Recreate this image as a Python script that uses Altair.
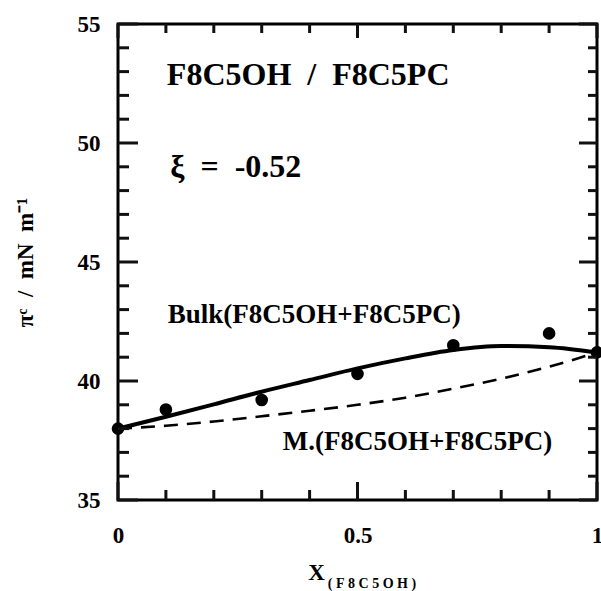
import altair as alt
import pandas as pd

NB = "\u00a0"

# ---- data ----
pt_x = [0.0, 0.1, 0.3, 0.5, 0.7, 0.9, 1.0]
pt_y = [38.0, 38.8, 39.2, 40.3, 41.5, 42.0, 41.2]

curve_x = [0.0, 0.1, 0.2, 0.3, 0.4, 0.5, 0.6, 0.7, 0.8, 0.9, 1.0]
bulk_y = [38.0, 38.5, 39.02, 39.55, 40.04, 40.53, 40.95, 41.30, 41.47, 41.42, 41.2]
ideal_y = [38.0, 38.12, 38.3, 38.52, 38.75, 39.0, 39.3, 39.68, 40.1, 40.6, 41.2]

y_major = [35, 40, 45, 50, 55]
y_minor = [36, 37, 38, 39, 41, 42, 43, 44, 46, 47, 48, 49, 51, 52, 53, 54]
x_major = [0.0, 0.5, 1.0]
x_minor = [0.1, 0.2, 0.3, 0.4, 0.6, 0.7, 0.8, 0.9]

title_text = "F8C5OH" + NB * 2 + "/" + NB * 2 + "F8C5PC"
xi_text = "ξ" + NB * 2 + "=" + NB * 2 + "-0.52"
bulk_text = "Bulk(F8C5OH+F8C5PC)"
mix_text = "M.(F8C5OH+F8C5PC)"

y_title = "πᶜ" + NB * 2 + "/" + NB * 2 + "mN" + NB * 2 + "m⁻¹"
x_title_main = "X"
x_title_sub = NB.join(list("(F8C5OH)"))

W, H = 479, 476
X0, X1, Y0, Y1 = 0.0, 1.0, 35.0, 55.0
FONT = "Liberation Serif"
INK = "#111111"

pts = pd.DataFrame({"x": pt_x, "y": pt_y})
curves = pd.DataFrame({"x": curve_x, "bulk": bulk_y, "ideal": ideal_y})

xs = alt.Scale(domain=[X0, X1], nice=False, zero=False)
ys = alt.Scale(domain=[Y0, Y1], nice=False, zero=False)

xaxis = alt.Axis(values=x_major, format="~g", labelFont=FONT, labelFontWeight="bold",
                 labelFontSize=23, labelColor="black", labelPadding=24, ticks=False,
                 domain=False, grid=False, title=None, labelFlush=False)
yaxis = alt.Axis(values=y_major, labelFont=FONT, labelFontWeight="bold", labelFontSize=23,
                 labelColor="black", labelPadding=18, ticks=False, domain=False, grid=False,
                 title=y_title, titleFont=FONT, titleFontWeight="bold",
                 titleFontSize=23, titleColor="black", titlePadding=40)

base_pts = alt.Chart(pts).mark_circle(size=160, color="black", opacity=1).encode(
    x=alt.X("x:Q", scale=xs, axis=xaxis),
    y=alt.Y("y:Q", scale=ys, axis=yaxis),
)

bulk_line = alt.Chart(curves).mark_line(color="black", strokeWidth=4, interpolate="monotone").encode(
    x=alt.X("x:Q", scale=xs), y=alt.Y("bulk:Q", scale=ys))
ideal_line = alt.Chart(curves).mark_line(color="black", strokeWidth=2.6, strokeDash=[14, 9],
                                         interpolate="monotone").encode(
    x=alt.X("x:Q", scale=xs), y=alt.Y("ideal:Q", scale=ys))


def label(text, x, y, size):
    df = pd.DataFrame({"t": [text], "x": [x], "y": [y]})
    return alt.Chart(df).mark_text(font=FONT, fontWeight="bold", fontSize=size, color="black",
                                   align="left", baseline="alphabetic").encode(
        x=alt.X("x:Q", scale=xs), y=alt.Y("y:Q", scale=ys), text="t:N")


labels = [
    label(title_text, 0.102, 52.44, 32),
    label(xi_text, 0.109, 48.57, 32),
    label(bulk_text, 0.104, 42.44, 27),
    label(mix_text, 0.344, 37.1, 27),
    label(x_title_main, 0.397, 31.65, 23),
    label(x_title_sub, 0.438, 31.3, 14),
]

# inward ticks on all four sides; lengths in pixels converted to data units
px_x = (X1 - X0) / W
px_y = (Y1 - Y0) / H
h_rows = []
for vals, ln_l, ln_r in ((y_major, 20, 18), (y_minor, 11, 9)):
    for v in vals:
        h_rows.append({"ty": float(v), "ta": X0, "tb": X0 + ln_l * px_x})
        h_rows.append({"ty": float(v), "ta": X1, "tb": X1 - ln_r * px_x})
v_rows = []
for vals, ln_b, ln_t in ((x_major, 18, 14), (x_minor, 10, 9)):
    for v in vals:
        v_rows.append({"tx": float(v), "ua": Y0, "ub": Y0 + ln_b * px_y})
        v_rows.append({"tx": float(v), "ua": Y1, "ub": Y1 - ln_t * px_y})
hdf = pd.DataFrame(h_rows)
vdf = pd.DataFrame(v_rows)

hticks = alt.Chart(hdf).mark_rule(color=INK, stroke=INK, strokeWidth=3, opacity=1).encode(
    y=alt.Y("ty:Q", scale=ys), x=alt.X("ta:Q", scale=xs), x2="tb:Q")
vticks = alt.Chart(vdf).mark_rule(color=INK, stroke=INK, strokeWidth=3, opacity=1).encode(
    x=alt.X("tx:Q", scale=xs), y=alt.Y("ua:Q", scale=ys), y2="ub:Q")

chart = alt.layer(base_pts, ideal_line, bulk_line, *labels, hticks, vticks).properties(
    width=W, height=H,
    autosize=alt.AutoSizeParams(type="none"),
    padding={"left": 118, "top": 24, "right": 4, "bottom": 91},
    background="white",
).configure_view(stroke="black", strokeWidth=3)

chart.save("out.html", embed_options={"renderer": "svg", "actions": False})
